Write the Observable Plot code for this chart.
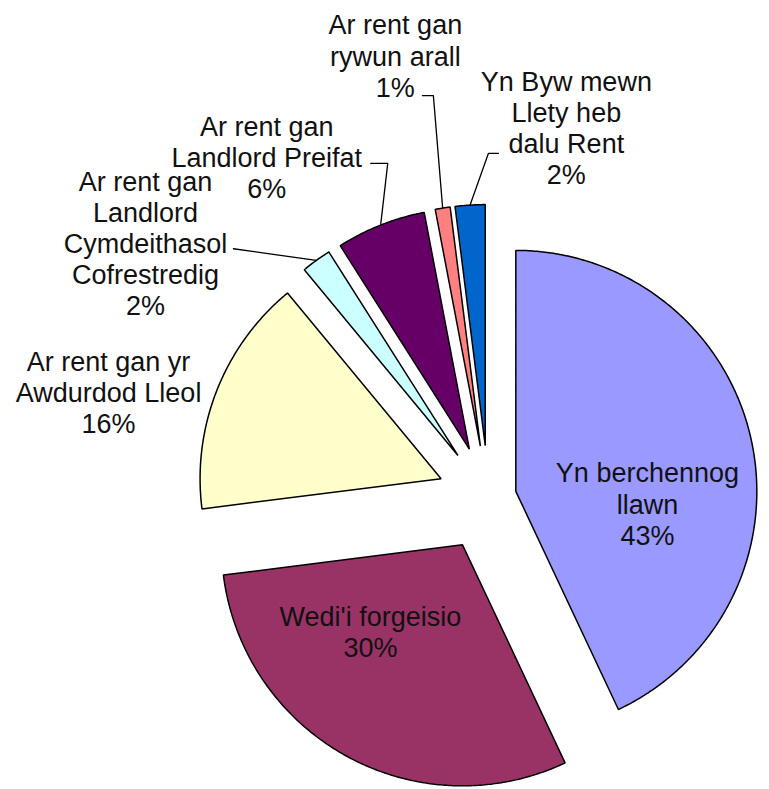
<!DOCTYPE html>
<html><head><meta charset="utf-8">
<script src="https://cdn.jsdelivr.net/npm/d3@7"></script>
<script src="https://cdn.jsdelivr.net/npm/@observablehq/plot@0.6"></script>
<style>body{margin:0;background:#fff} #chart{width:769px;height:789px}</style>
</head><body><div id="chart"></div>
<script>
// ---- data ----
const categories = [
  "Yn berchennog llawn",
  "Wedi'i forgeisio",
  "Ar rent gan yr Awdurdod Lleol",
  "Ar rent gan Landlord Cymdeithasol Cofrestredig",
  "Ar rent gan Landlord Preifat",
  "Ar rent gan rywun arall",
  "Yn Byw mewn Llety heb dalu Rent"
];
const values = [43, 30, 16, 2, 6, 1, 2];
const labelLines = [
  ["Yn berchennog", "llawn"],
  ["Wedi'i forgeisio"],
  ["Ar rent gan yr", "Awdurdod Lleol"],
  ["Ar rent gan", "Landlord", "Cymdeithasol", "Cofrestredig"],
  ["Ar rent gan", "Landlord Preifat"],
  ["Ar rent gan", "rywun arall"],
  ["Yn Byw mewn", "Llety heb", "dalu Rent"]
];
const colors = ["#9999FF", "#993366", "#FFFFCC", "#CCFFFF", "#660066", "#FF8080", "#0066CC"];

// ---- layout / style ----
const W = 769, H = 789, R = 241, CX = 488, CY = 497;
// explosion distance of each slice along its bisector (px)
const explode = [28, 54, 51, 52, 52, 52, 52];
// label block centre: [compass angle deg, distance in radii]
const labelPolar = [[92.2, 0.660], [221.4, 0.741], [285.5, 1.636], [306.6, 1.773], [326.9, 1.685], [348.1, 1.874], [11.9, 1.567]];
// leader lines: start offset from label centre (screen px) and horizontal elbow length
const leaders = [null, null, null, {from: [88, 6], elbow: 0}, {from: [104, 6], elbow: 17}, {from: [27, 40], elbow: 11}, {from: [-68, 25.5], elbow: -10}];

const pie = d3.pie().sort(null).value(d => d)(values);
const deg = Math.PI / 180;

const slices = pie.map((p, i) => {
  const mid = (p.startAngle + p.endAngle) / 2;
  const ox = explode[i] / R * Math.sin(mid), oy = explode[i] / R * Math.cos(mid);
  const pts = [{x: ox, y: oy}];
  const n = Math.max(2, Math.ceil((p.endAngle - p.startAngle) / (0.5 * deg)));
  for (let k = 0; k <= n; k++) {
    const a = p.startAngle + (p.endAngle - p.startAngle) * k / n;
    pts.push({x: ox + Math.sin(a), y: oy + Math.cos(a)});
  }
  return {pts, ox, oy, mid, color: colors[i], name: categories[i]};
});

const labels = values.map((v, i) => {
  const [ang, dist] = labelPolar[i];
  return {x: dist * Math.sin(ang * deg), y: dist * Math.cos(ang * deg), text: [...labelLines[i], v + "%"].join("\n")};
});

const leaderLines = [];
leaders.forEach((l, i) => {
  if (!l) return;
  const s = slices[i];
  const p0 = {x: labels[i].x + l.from[0] / R, y: labels[i].y - l.from[1] / R, id: i};
  const p1 = {x: p0.x + l.elbow / R, y: p0.y, id: i};
  const p2 = {x: s.ox + Math.sin(s.mid), y: s.oy + Math.cos(s.mid), id: i};
  leaderLines.push(p0, p1, p2);
});

const chart = Plot.plot({
  width: W, height: H,
  marginTop: 0, marginRight: 0, marginBottom: 0, marginLeft: 0,
  x: {domain: [-CX / R, (W - CX) / R], range: [0, W], axis: null},
  y: {domain: [(CY - H) / R, CY / R], range: [H, 0], axis: null},
  style: {background: "white"},
  marks: [
    ...slices.map(s => Plot.line(s.pts, {x: "x", y: "y", fill: s.color, stroke: "black", strokeWidth: 1.5, curve: "linear-closed", strokeLinejoin: "miter"})),
    Plot.line(leaderLines, {x: "x", y: "y", z: "id", stroke: "black", strokeWidth: 1.3}),
    Plot.text(labels, {x: "x", y: "y", text: "text", fontSize: 27, lineHeight: 1.15, fontFamily: "'Liberation Sans', Arial, sans-serif", fill: "#111", textAnchor: "middle"})
  ]
});
document.getElementById("chart").appendChild(chart);
</script>
</body></html>
